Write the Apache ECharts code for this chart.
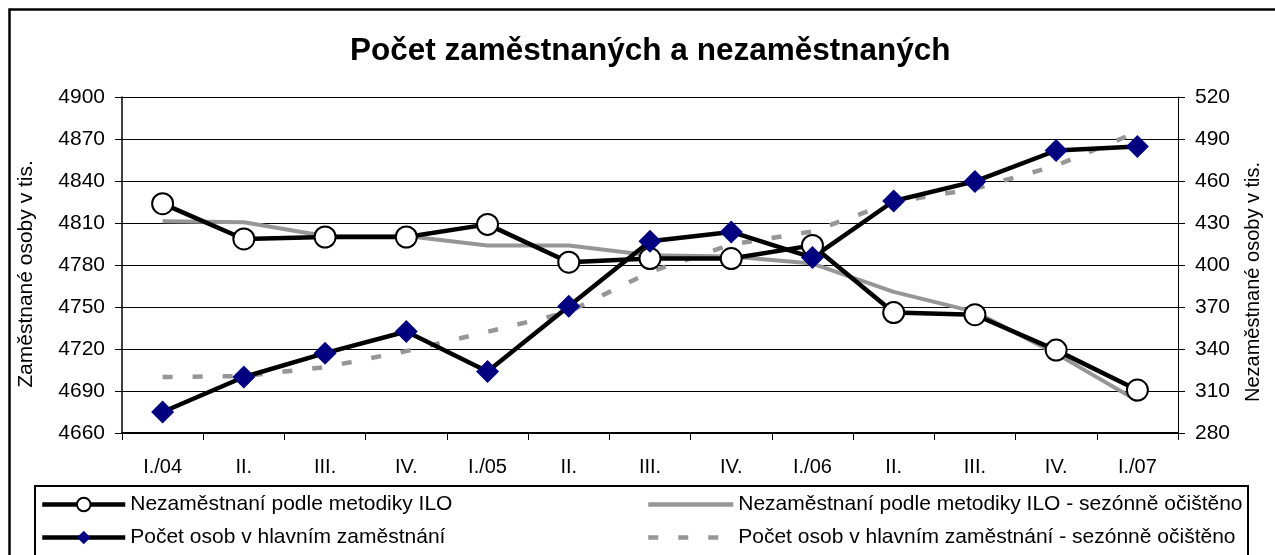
<!DOCTYPE html>
<html>
<head>
<meta charset="utf-8">
<script src="https://cdn.jsdelivr.net/npm/echarts@6/dist/echarts.min.js"></script>
<style>
html,body{margin:0;padding:0;background:#fff;}
#chart{width:1275px;height:555px;}
</style>
</head>
<body>
<div id="chart"></div>
<script>
var categories = ['I./04','II.','III.','IV.','I./05','II.','III.','IV.','I./06','II.','III.','IV.','I./07'];
var leftTicks = [4660, 4900, 30];
var rightTicks = [280, 520, 30];
var unemployedILO = [443.8, 418.6, 420, 420, 429, 402, 404.6, 404.6, 414, 366, 364.5, 339.2, 310.7];
var unemployedILOsa = [431.2, 430.5, 420.7, 420.7, 414, 413.9, 407, 406, 401, 380.8, 366.5, 336.7, 303];
var employed = [4675, 4700, 4717, 4732.5, 4704, 4750.6, 4797, 4803.6, 4785.3, 4825.7, 4839.7, 4861.8, 4864.7];
var employedSa = [4700, 4700.7, 4707, 4718.5, 4732.3, 4746.5, 4775, 4794.6, 4804, 4825, 4834.5, 4851, 4875];

var names = [
  'Nezaměstnaní podle metodiky ILO',
  'Nezaměstnaní podle metodiky ILO - sezónně očištěno',
  'Počet osob v hlavním zaměstnání',
  'Počet osob v hlavním zaměstnání - sezónně očištěno'
];
var axisTitles = ['Zaměstnané osoby v tis.', 'Nezaměstnané osoby v tis.'];
var FONT = '"Liberation Sans", Arial, sans-serif';
var GRAY = '#969696';
var DASH = [10, 20];

var chart = echarts.init(document.getElementById('chart'), null, {renderer:'canvas'});
chart.setOption({
  animation: false,
  backgroundColor: '#fff',
  textStyle: {fontFamily: FONT, color: '#000'},
  title: {
    text: 'Počet zaměstnaných a nezaměstnaných',
    left: 345, top: 30,
    textStyle: {fontFamily: FONT, fontSize: 31.5, fontWeight: 'bold', color: '#000'}
  },
  graphic: [
    {type:'rect', shape:{x:9.5, y:9.5, width:1300, height:600}, style:{fill:'none', stroke:'#000', lineWidth:2.5}, silent:true},
    {type:'rect', shape:{x:35, y:486, width:1213, height:120}, style:{fill:'none', stroke:'#000', lineWidth:2}, silent:true},
    {type:'text', x:26.5, y:274, rotation: Math.PI/2, silent:true,
      style:{text: axisTitles[0], fontFamily: FONT, fontSize: 21, fill:'#000', align:'center', verticalAlign:'middle'}},
    {type:'text', x:1253, y:282, rotation: Math.PI/2, silent:true,
      style:{text: axisTitles[1], fontFamily: FONT, fontSize: 20, fill:'#000', align:'center', verticalAlign:'middle'}}
  ],
  legend: [
    {
      data: [
        {name: names[0], itemStyle:{color:'#fff', borderColor:'#000', borderWidth:2}, lineStyle:{color:'#000', width:4.5}},
        {name: names[2], itemStyle:{color:'#000080', borderWidth:0}, lineStyle:{color:'#000', width:4.5}}
      ],
      orient:'vertical', left: 40, top: 494, padding: 0,
      itemWidth: 83, itemHeight: 17, itemGap: 12,
      textStyle: {fontFamily: FONT, fontSize: 21, color:'#000'}
    },
    {
      data: [
        {name: names[1], itemStyle:{opacity:0}, lineStyle:{color:GRAY, width:4.5}},
        {name: names[3], itemStyle:{opacity:0}, lineStyle:{color:GRAY, width:4.5, type:DASH, cap:'butt'}}
      ],
      orient:'vertical', left: 646, top: 494, padding: 0,
      itemWidth: 85, itemHeight: 17, itemGap: 12,
      textStyle: {fontFamily: FONT, fontSize: 21, color:'#000'}
    }
  ],
  grid: {left: 122, right: 97, top: 97, height: 336, containLabel: false},
  xAxis: {
    type: 'category', data: categories, boundaryGap: true,
    axisLine: {lineStyle: {color:'#000', width: 2}},
    axisTick: {show: true, interval: 0, length: 7, lineStyle:{color:'#000', width:1}},
    axisLabel: {interval: 0, margin: 24, fontFamily: FONT, fontSize: 20, color:'#000'}
  },
  yAxis: [
    {
      type: 'value', min: leftTicks[0], max: leftTicks[1], interval: leftTicks[2], position:'left',
      axisLine: {show:true, lineStyle:{color:'#000', width:1.5}},
      axisTick: {show:true, length:7, lineStyle:{color:'#000'}},
      axisLabel: {margin: 17, fontFamily: FONT, fontSize: 21, color:'#000', formatter: function(v){return String(v);}},
      splitLine: {show:true, lineStyle:{color:'#000', width:1}}
    },
    {
      type: 'value', min: rightTicks[0], max: rightTicks[1], interval: rightTicks[2], position:'right',
      axisLine: {show:true, lineStyle:{color:'#000', width:1}},
      axisTick: {show:true, length:7, lineStyle:{color:'#000'}},
      axisLabel: {margin: 17, fontFamily: FONT, fontSize: 21, color:'#000', formatter: function(v){return String(v);}},
      splitLine: {show:false}
    }
  ],
  series: [
    {
      name: names[1], type:'line', yAxisIndex:1, data: unemployedILOsa,
      symbol:'none', color: GRAY,
      lineStyle:{color:GRAY, width:4}
    },
    {
      name: names[3], type:'line', yAxisIndex:0, data: employedSa,
      symbol:'none', color: GRAY,
      lineStyle:{color:GRAY, width:4.5, type:DASH, cap:'butt'}
    },
    {
      name: names[0], type:'line', yAxisIndex:1, data: unemployedILO,
      symbol:'circle', symbolSize: 21, color:'#000',
      itemStyle:{color:'#fff', borderColor:'#000', borderWidth:2},
      lineStyle:{color:'#000', width:4.5}
    },
    {
      name: names[2], type:'line', yAxisIndex:0, data: employed,
      symbol:'diamond', symbolSize: 23, color:'#000080',
      itemStyle:{color:'#000080', borderWidth:0},
      lineStyle:{color:'#000', width:4.5}
    }
  ]
});
</script>
</body>
</html>
